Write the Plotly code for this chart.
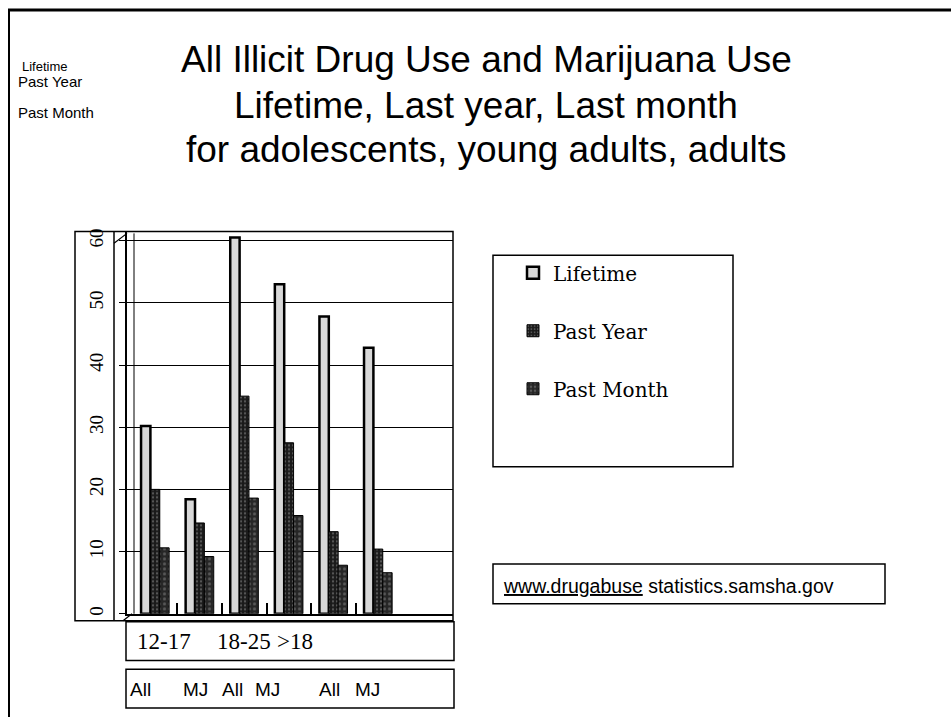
import plotly.graph_objects as go

# ---- data ----
categories = ["12-17 All", "12-17 MJ", "18-25 All", "18-25 MJ", ">18 All", ">18 MJ"]
lifetime = [30.2, 18.4, 60.5, 53.0, 47.8, 42.8]
past_year = [20.0, 14.6, 35.0, 27.5, 13.2, 10.4]
past_month = [10.6, 9.2, 18.6, 15.8, 7.8, 6.6]
series_names = ["Lifetime", "Past Year", "Past Month"]
age_groups = ["12-17", "18-25", ">18"]
drug_labels = ["All", "MJ", "All", "MJ", "All", "MJ"]
y_ticks = [0, 10, 20, 30, 40, 50, 60]
title_lines = ["All Illicit Drug Use and Marijuana Use",
               "Lifetime, Last year, Last month",
               "for adolescents, young adults, adults"]
source_link = "www.drugabuse"
source_rest = " statistics.samsha.gov"

W, H = 951, 719
def px(x):
    return x / W
def py(y):
    return 1 - y / H

# category slots on a numeric axis (one slot per category)
cat_index = list(range(len(categories)))
boundaries = [i + 0.5 for i in cat_index[:-1]]
X_RANGE = [-0.63, 6.68]

fig = go.Figure()
styles = [
    dict(color="#d8d8d8", line=dict(color="black", width=2.5)),
    dict(color="#1a1a1a", line=dict(color="black", width=1),
         pattern=dict(shape=".", fgcolor="#9a9a9a", bgcolor="#1a1a1a", size=4, solidity=0.25)),
    dict(color="#262626", line=dict(color="black", width=1),
         pattern=dict(shape=".", fgcolor="#8a8a8a", bgcolor="#262626", size=5, solidity=0.3)),
]
for name, vals, st in zip(series_names, [lifetime, past_year, past_month], styles):
    fig.add_trace(go.Bar(x=cat_index, y=vals, name=name, marker=st, legendgroup=name,
                         hovertext=categories, hoverinfo="text+y+name"))

serif = "Liberation Serif"
lserif = "DejaVu Serif"
sans = "Liberation Sans"

fig.update_layout(
    width=W, height=H,
    margin=dict(l=0, r=0, t=0, b=0),
    paper_bgcolor="white", plot_bgcolor="white",
    barmode="group", bargap=0.37, bargroupgap=0,
    showlegend=True,
    legend=dict(x=px(513), y=py(252), xanchor="left", yanchor="top",
                font=dict(family=lserif, size=20, color="black"),
                bgcolor="rgba(0,0,0,0)", borderwidth=0,
                tracegroupgap=29, traceorder="grouped"),
    xaxis=dict(domain=[px(127), px(453)], type="linear",
               range=X_RANGE, tickmode="array", tickvals=boundaries,
               ticktext=[""] * len(boundaries),
               showticklabels=True, ticks="inside", ticklen=11,
               tickcolor="black", tickwidth=2,
               showline=True, linecolor="black", linewidth=1.5,
               showgrid=False, zeroline=False),
    yaxis=dict(domain=[py(615), py(230)], range=[0, 61.5],
               tickvals=y_ticks, ticks="outside", ticklen=6,
               tickcolor="black", tickangle=-90, ticklabelstandoff=9,
               tickfont=dict(family=serif, size=19, color="black"),
               showline=True, linecolor="black", linewidth=1.5,
               showgrid=True, gridcolor="black", gridwidth=1.2,
               zeroline=False),
)

shapes = []
def rect(x0, y0, x1, y1, w=1.5):
    shapes.append(dict(type="rect", xref="paper", yref="paper",
                       x0=px(x0), x1=px(x1), y0=py(y1), y1=py(y0),
                       line=dict(color="black", width=w), fillcolor="rgba(0,0,0,0)"))
def line(x0, y0, x1, y1, w=1.5):
    shapes.append(dict(type="line", xref="paper", yref="paper",
                       x0=px(x0), x1=px(x1), y0=py(y0), y1=py(y1),
                       line=dict(color="black", width=w)))

# frame of the slide
line(8, 7, 951, 7, 3)
line(9, 7, 9, 719, 2)
# chart box and 3D wall lines
rect(75, 230, 453, 622)
line(114, 230, 114, 622)
line(134, 232, 134, 615, 1)
line(114, 242, 127, 232, 1.2)
line(123, 622, 132, 615, 1.2)
# category label boxes
rect(126, 623, 454, 662)
rect(126, 671, 454, 710)
# legend box
rect(493, 254, 733, 467)
# source box
rect(493, 565, 885, 605)
fig.update_layout(shapes=shapes)

ann = []
def text(x, y, s, family, size, anchor="left"):
    ann.append(dict(xref="paper", yref="paper", x=px(x), y=py(y), text=s,
                    showarrow=False, xanchor=anchor, yanchor="middle",
                    font=dict(family=family, size=size, color="black")))

# title lines
for t, y in zip(title_lines, [57, 103, 148]):
    text(486, y, t, sans, 37, anchor="center")

# top-left small labels
text(20, 64, series_names[0], sans, 13)
text(16, 79, series_names[1], sans, 15)
text(16, 110, series_names[2], sans, 15)

# age group row
age_x = [135, 215, 275]
for g, x in zip(age_groups, age_x):
    text(x, 643, g, serif, 23)
# drug type row
drug_x = [128, 181, 220, 253, 317, 353]
for d, x in zip(drug_labels, drug_x):
    text(x, 691, d, sans, 19)

# source
text(501, 587, "<span style='text-decoration:underline'>" + source_link + "</span>" + source_rest, sans, 19.5)

fig.update_layout(annotations=ann)
fig.write_html("out.html", config={"displayModeBar": False},
               post_script="document.body.style.margin='0px';")
